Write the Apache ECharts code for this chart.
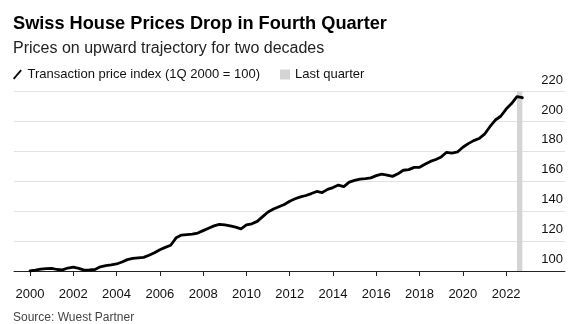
<!DOCTYPE html>
<html><head><meta charset="utf-8">
<script src="https://cdn.jsdelivr.net/npm/echarts@6/dist/echarts.min.js"></script>
<style>html,body{margin:0;padding:0;background:#fff}#c{width:587px;height:324px}</style>
</head><body><div id="c"></div>
<script>
const titleText = "Swiss House Prices Drop in Fourth Quarter";
const subtitleText = "Prices on upward trajectory for two decades";
const sourceText = "Source: Wuest Partner";
const seriesName = "Transaction price index (1Q 2000 = 100)";
const shadeName = "Last quarter";
const firstYear = 2000;
// quarterly index values, 1Q 2000 .. 4Q 2022
const priceIndex = [
  100.0, 100.6, 101.3, 101.6, 101.8, 101.0, 100.8, 102.0,
  102.6, 101.8, 100.6, 100.7, 101.0, 102.8, 103.6, 104.1,
  104.7, 106.0, 107.6, 108.4, 108.8, 109.1, 110.5, 112.2,
  114.2, 115.8, 117.2, 122.2, 124.0, 124.3, 124.6, 125.4,
  127.0, 128.6, 130.2, 131.2, 130.8, 130.2, 129.3, 128.2,
  130.8, 131.6, 133.2, 136.4, 139.5, 141.5, 143.0, 144.5,
  146.7, 148.3, 149.6, 150.5, 151.8, 153.2, 152.5, 154.6,
  155.8, 157.5, 156.4, 159.4, 160.6, 161.5, 161.8, 162.3,
  163.8, 164.8, 164.2, 163.3, 165.0, 167.4, 167.8, 169.3,
  169.4, 171.4, 173.3, 174.6, 176.3, 179.4, 178.9, 179.6,
  182.8, 185.2, 187.2, 188.6, 191.5, 196.5, 201.0, 203.5,
  208.3, 212.0, 216.6, 215.9
];
const lastQuarter = [2022.5, 2022.75];
const xTicks = [2000, 2002, 2004, 2006, 2008, 2010, 2012, 2014, 2016, 2018, 2020, 2022];
const yTicks = [100, 120, 140, 160, 180, 200, 220];

const lineData = priceIndex.map((v, i) => [firstYear + i / 4, v]);

const chart = echarts.init(document.getElementById('c'), null, {renderer: 'canvas'});
const font = '"Liberation Sans", Arial, Helvetica, sans-serif';
chart.setOption({
  animation: false,
  textStyle: {fontFamily: font},
  title: [
    {text: titleText, left: 8, top: 10, textStyle: {fontSize: 18.2, fontWeight: 'bold', color: '#000', fontFamily: font}},
    {text: subtitleText, left: 8, top: 36, textStyle: {fontSize: 16, fontWeight: 'normal', color: '#222', fontFamily: font}},
    {text: sourceText, left: 8, top: 307, textStyle: {fontSize: 12, fontWeight: 'normal', color: '#444', fontFamily: font}}
  ],
  legend: {
    left: 8, top: 63, itemWidth: 10, itemHeight: 10, itemGap: 20,
    textStyle: {fontSize: 13, color: '#111', fontFamily: font, padding: [0, 0, 0, 0]},
    data: [
      {name: seriesName, icon: 'path://M0,10 L8.5,0 L10,1.3 L1.5,11.3 Z', itemStyle: {color: '#000'}},
      {name: shadeName, icon: 'rect', itemStyle: {color: '#d4d4d4'}}
    ]
  },
  grid: {left: 14, right: 22, top: 91.6, bottom: 53, containLabel: false},
  xAxis: {
    type: 'value', min: 1999.26, max: 2024.72,
    splitLine: {show: false},
    axisLine: {show: true, lineStyle: {color: '#222', width: 1}},
    axisTick: {show: true, length: 5, lineStyle: {color: '#222'}, customValues: xTicks},
    axisLabel: {fontSize: 13, color: '#111', margin: 17, fontFamily: font, customValues: xTicks,
      formatter: v => String(Math.round(v))}
  },
  yAxis: {
    type: 'value', position: 'right', min: yTicks[0], max: yTicks[yTicks.length - 1], interval: 20,
    axisLine: {show: false}, axisTick: {show: false},
    splitLine: {show: true, lineStyle: {color: '#e2e2e2', width: 1}},
    axisLabel: {inside: true, align: 'right', verticalAlign: 'bottom', margin: 2, padding: [0, 0, 5, 0],
      fontSize: 13, color: '#111', fontFamily: font}
  },
  series: [
    {
      name: shadeName, type: 'line', data: [], silent: true,
      itemStyle: {color: '#d4d4d4'},
      markArea: {silent: true, itemStyle: {color: '#d4d4d4'},
        data: [[{xAxis: lastQuarter[0]}, {xAxis: lastQuarter[1]}]]}
    },
    {
      name: seriesName, type: 'line', data: lineData, showSymbol: false, smooth: false,
      lineStyle: {color: '#000', width: 2.8, join: 'round', cap: 'round'},
      itemStyle: {color: '#000'}, z: 3
    }
  ]
});
</script></body></html>
